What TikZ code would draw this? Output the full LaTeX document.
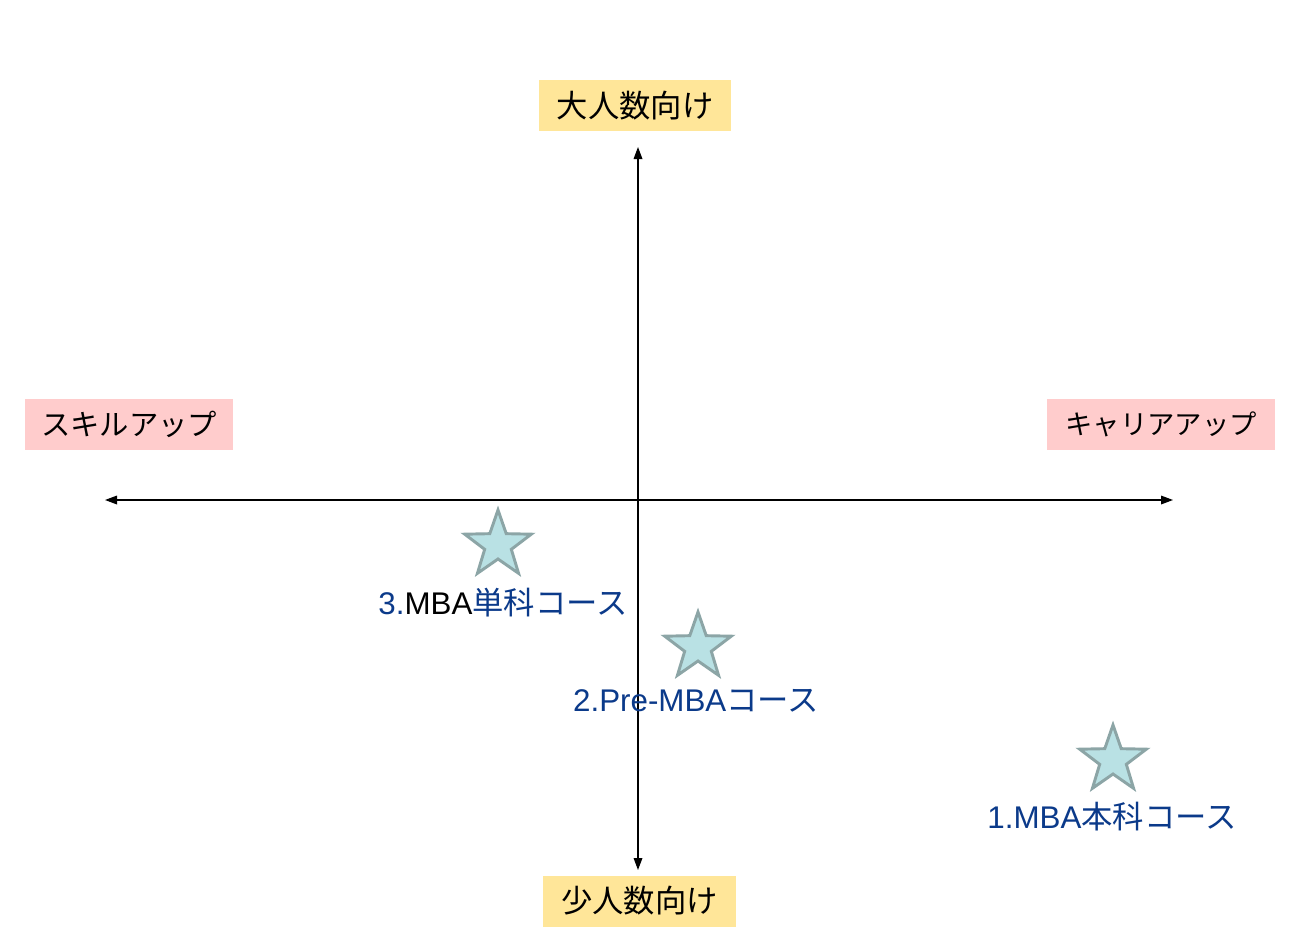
\documentclass[tikz,border=0pt]{standalone}
\usepackage{fontspec}
\setmainfont{Liberation Sans}
\newfontfamily\jp{Noto Sans CJK JP}
\usetikzlibrary{shapes.geometric,arrows.meta}
\definecolor{boxyellow}{HTML}{FFE699}
\definecolor{boxpink}{HTML}{FFCCCC}
\definecolor{starfill}{HTML}{B9E1E4}
\definecolor{stardraw}{HTML}{8CA5A6}
\definecolor{lblblue}{HTML}{0B3A8A}
\begin{document}
\begin{tikzpicture}[x=0.75pt,y=-0.75pt,
  axisbox/.style={rectangle,inner sep=0pt,minimum width=#1*0.75pt,minimum height=51*0.75pt,text=black},
  vbox/.style={axisbox=#1,fill=boxyellow,font=\jp\fontsize{23.5pt}{27pt}\selectfont},
  hbox/.style={axisbox=#1,fill=boxpink},
  mstar/.style={star,star points=5,star point ratio=2.5,minimum size=70*0.75pt,inner sep=0pt,fill=starfill,draw=stardraw,line width=2.2pt},
  lbl/.style={inner sep=0pt,text=lblblue,font=\fontsize{23.5pt}{27pt}\selectfont},
  axis/.style={line width=0.9pt,black,{Triangle[length=9pt,width=6.5pt]}-{Triangle[length=9pt,width=6.5pt]}}
]
\useasboundingbox (0,0) rectangle (1300,950);
\fill[white] (0,0) rectangle (1300,950);

% axes
\coordinate (L) at (105,500);
\coordinate (R) at (1173,500);
\coordinate (T) at (638,147);
\coordinate (B) at (638,870);
\draw[axis] (L) -- (R);
\draw[axis] (T) -- (B);

% axis labels
\node[vbox=192] (top) at (635,105.5) {大人数向け};
\node[vbox=193] (bottom) at (639.5,901) {少人数向け};
\node[hbox=208,font=\jp\fontsize{22pt}{26pt}\selectfont] (left) at (129,424.5) {スキルアップ};
\node[hbox=228,font=\jp\fontsize{20.5pt}{24pt}\selectfont] (right) at (1161,424.5) {キャリアアップ};

% stars
\node[mstar] (s3) at (498,545) {};
\node[mstar] (s2) at (698,647) {};
\node[mstar] (s1) at (1113,760) {};

% labels
\node[lbl] (l3) at (503,603) {3.\textcolor{black}{MBA}{\jp 単科コース}};
\node[lbl] (l2) at (696,701) {2.Pre-MBA{\jp コース}};
\node[lbl] (l1) at (1112,817) {1.MBA{\jp 本科コース}};
\end{tikzpicture}
\end{document}
